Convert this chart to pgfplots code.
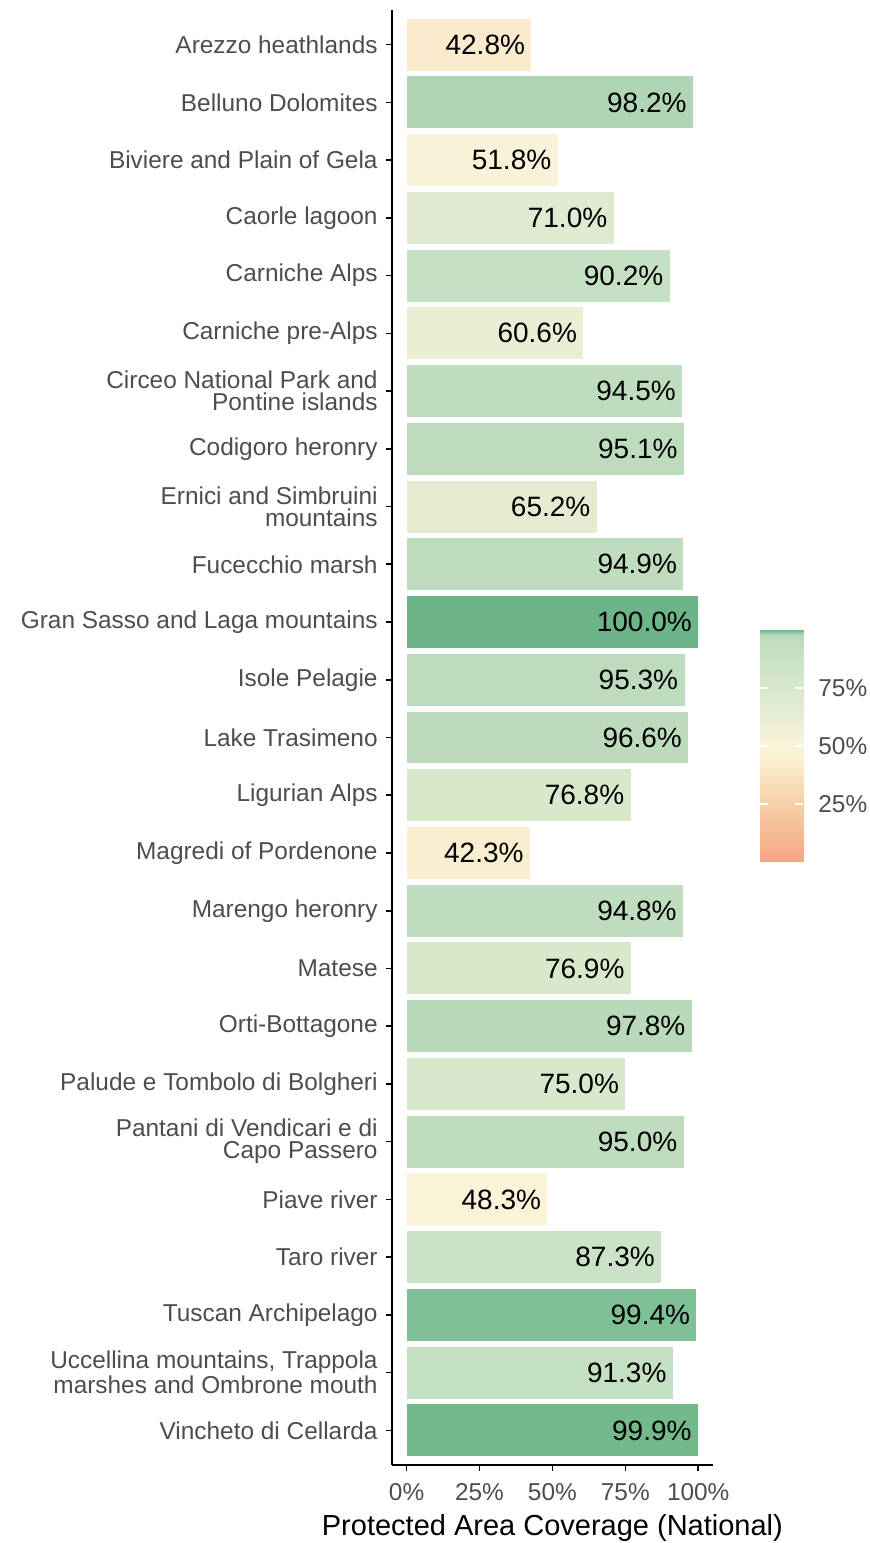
\documentclass[border=0pt]{standalone}
\usepackage{fontspec}
\setmainfont{Liberation Sans}
\usepackage{pgfplots}
\pgfplotsset{compat=1.18}
\definecolor{lbl}{HTML}{4D4D4D}
% bar fills
\definecolor{b01}{HTML}{F9EBCB}
\definecolor{b02}{HTML}{B0D5B4}
\definecolor{b03}{HTML}{F8F2D8}
\definecolor{b04}{HTML}{DFEAD0}
\definecolor{b05}{HTML}{C6E0C3}
\definecolor{b06}{HTML}{EAEED3}
\definecolor{b07}{HTML}{BEDDBE}
\definecolor{b08}{HTML}{BDDCBD}
\definecolor{b09}{HTML}{E4EBD1}
\definecolor{b10}{HTML}{BEDDBE}
\definecolor{b11}{HTML}{6CB588}
\definecolor{b12}{HTML}{BDDCBD}
\definecolor{b13}{HTML}{BBDBBC}
\definecolor{b14}{HTML}{D7E8CB}
\definecolor{b15}{HTML}{FBEDD0}
\definecolor{b16}{HTML}{BEDDBE}
\definecolor{b17}{HTML}{D7E8CB}
\definecolor{b18}{HTML}{B8DABA}
\definecolor{b19}{HTML}{D8E8CC}
\definecolor{b20}{HTML}{BDDDBE}
\definecolor{b21}{HTML}{FAF3D7}
\definecolor{b22}{HTML}{CAE2C6}
\definecolor{b23}{HTML}{80C096}
\definecolor{b24}{HTML}{C4E0C2}
\definecolor{b25}{HTML}{74B98C}
\pgfplotsset{colormap={cov}{
    rgb255(0pt)=(244,165,130);
    rgb255(25pt)=(246,207,166);
    rgb255(42.5pt)=(251,236,205);
    rgb255(48.3pt)=(250,243,216);
    rgb255(51.8pt)=(248,243,218);
    rgb255(60.6pt)=(234,239,212);
    rgb255(65.2pt)=(227,235,209);
    rgb255(71pt)=(222,234,207);
    rgb255(76.8pt)=(214,232,203);
    rgb255(87.3pt)=(202,226,199);
    rgb255(91pt)=(196,224,195);
    rgb255(95pt)=(189,221,190);
    rgb255(97.8pt)=(184,218,186);
    rgb255(98.2pt)=(177,214,181);
    rgb255(99.4pt)=(128,192,150);
    rgb255(99.9pt)=(116,185,140);
    rgb255(100pt)=(108,181,136)}}

\begin{document}
\begin{tikzpicture}
\path[use as bounding box] (0,0) rectangle (435pt,771.5pt);
\begin{axis}[
  at={(196pt,39pt)}, anchor=south west,
  scale only axis,
  width=160.4pt, height=727.5pt,
  xbar, bar width=0.9, bar shift=0pt,
  xmin=-5, xmax=105,
  ymin=0.4, ymax=25.6,
  y dir=reverse,
  axis lines*=left,
  axis line style={line width=0.8pt, black},
  tick align=outside,
  major tick length=2.75pt,
  tick style={line width=0.8pt, black},
  xtick={0,25,50,75,100},
  xticklabel={\pgfmathprintnumber{\tick}\%},
  ytick={1,...,25},
  yticklabels={
    {Arezzo heathlands},
    {Belluno Dolomites},
    {Biviere and Plain of Gela},
    {Caorle lagoon},
    {Carniche Alps},
    {Carniche pre-Alps},
    {Circeo National Park and\\Pontine islands},
    {Codigoro heronry},
    {Ernici and Simbruini\\mountains},
    {Fucecchio marsh},
    {Gran Sasso and Laga mountains},
    {Isole Pelagie},
    {Lake Trasimeno},
    {Ligurian Alps},
    {Magredi of Pordenone},
    {Marengo heronry},
    {Matese},
    {Orti-Bottagone},
    {Palude e Tombolo di Bolgheri},
    {Pantani di Vendicari e di\\Capo Passero},
    {Piave river},
    {Taro river},
    {Tuscan Archipelago},
    {Uccellina mountains, Trappola\\marshes and Ombrone mouth},
    {Vincheto di Cellarda}},
  ticklabel style={font=\fontsize{12.2}{11}\selectfont, text=lbl},
  yticklabel style={align=right, inner sep=0pt, xshift=-4.25pt},
  xticklabel style={inner sep=0pt, yshift=-6.25pt},
  /pgf/number format/assume math mode=true,
  xlabel={Protected Area Coverage (National)},
  xlabel style={font=\fontsize{14.5}{16}\selectfont, inner sep=0pt, yshift=-6.5pt},
  point meta=x,
  nodes near coords={\pgfmathprintnumber[fixed,fixed zerofill,precision=1]{\pgfplotspointmeta}\%},
  nodes near coords align={anchor=east},
  every node near coord/.append style={anchor=east, inner sep=0pt, xshift=-3pt, font=\fontsize{14}{16}\selectfont, text=black},
  every axis plot/.append style={draw=none},
]
\addplot[fill=b01] coordinates {(42.8,1)};
\addplot[fill=b02] coordinates {(98.2,2)};
\addplot[fill=b03] coordinates {(51.8,3)};
\addplot[fill=b04] coordinates {(71.0,4)};
\addplot[fill=b05] coordinates {(90.2,5)};
\addplot[fill=b06] coordinates {(60.6,6)};
\addplot[fill=b07] coordinates {(94.5,7)};
\addplot[fill=b08] coordinates {(95.1,8)};
\addplot[fill=b09] coordinates {(65.2,9)};
\addplot[fill=b10] coordinates {(94.9,10)};
\addplot[fill=b11] coordinates {(100.0,11)};
\addplot[fill=b12] coordinates {(95.3,12)};
\addplot[fill=b13] coordinates {(96.6,13)};
\addplot[fill=b14] coordinates {(76.8,14)};
\addplot[fill=b15] coordinates {(42.3,15)};
\addplot[fill=b16] coordinates {(94.8,16)};
\addplot[fill=b17] coordinates {(76.9,17)};
\addplot[fill=b18] coordinates {(97.8,18)};
\addplot[fill=b19] coordinates {(75.0,19)};
\addplot[fill=b20] coordinates {(95.0,20)};
\addplot[fill=b21] coordinates {(48.3,21)};
\addplot[fill=b22] coordinates {(87.3,22)};
\addplot[fill=b23] coordinates {(99.4,23)};
\addplot[fill=b24] coordinates {(91.3,24)};
\addplot[fill=b25] coordinates {(99.9,25)};
\end{axis}

% colour key
\begin{axis}[
  at={(380pt,340.5pt)}, anchor=south west,
  scale only axis, width=21.5pt, height=116pt,
  xmin=0, xmax=1, ymin=0, ymax=100,
  colormap name=cov,
  point meta min=0, point meta max=100,
  axis line style={draw=none},
  xtick=\empty,
  ytick={25,50,75},
  ytick pos=both, yticklabel pos=right,
  yticklabel={\pgfmathprintnumber{\tick}\%},
  yticklabel style={font=\fontsize{12.2}{11}\selectfont, text=lbl, inner sep=0pt, xshift=7.5pt},
  /pgf/number format/assume math mode=true,
  tick align=inside, major tick length=4pt,
  major tick style={white, line width=0.8pt},
  axis on top,
]
\addplot[surf, shader=interp, point meta=y, mesh/cols=2] coordinates {
  (0,0) (1,0)
  (0,100) (1,100)
};
\end{axis}
\end{tikzpicture}
\end{document}
